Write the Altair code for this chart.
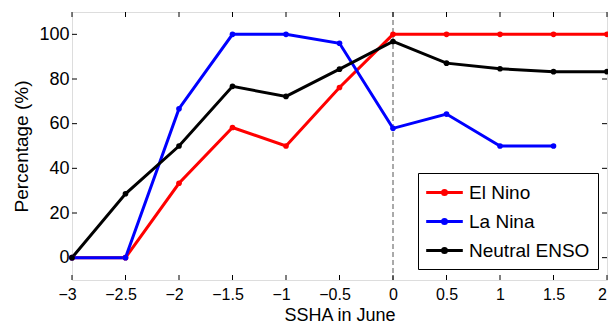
import altair as alt
import pandas as pd

x_vals = [-3, -2.5, -2, -1.5, -1, -0.5, 0, 0.5, 1, 1.5, 2]
el_nino = [0, 0, 33.3, 58.3, 50, 76.2, 100, 100, 100, 100, 100]
la_nina = [0, 0, 66.7, 100, 100, 96.0, 57.9, 64.3, 50, 50, None]
neutral = [0, 28.6, 50, 76.7, 72.2, 84.4, 96.8, 87.1, 84.6, 83.3, 83.3]
series_names = ["El Nino", "La Nina", "Neutral ENSO"]
series_colors = ["#ff0000", "#0000ff", "#000000"]
x_ticks = [-3, -2.5, -2, -1.5, -1, -0.5, 0, 0.5, 1, 1.5, 2]
y_ticks = [0, 20, 40, 60, 80, 100]

rows = []
for name, vals in zip(series_names, [el_nino, la_nina, neutral]):
    for xv, yv in zip(x_vals, vals):
        if yv is not None:
            rows.append({"x": xv, "y": yv, "series": name})
df = pd.DataFrame(rows)
xt_df = pd.DataFrame({"t": x_ticks})
yt_df = pd.DataFrame({"t": y_ticks})

W, H = 535, 268
TL = 5
FONT = "Liberation Sans"

x_scale = alt.Scale(domain=[-3, 2], nice=False, zero=False)
y_scale = alt.Scale(domain=[-10, 110], nice=False, zero=False)
color_scale = alt.Scale(domain=series_names, range=series_colors)

x_axis = alt.Axis(
    values=x_ticks, format=".1~f", title="SSHA in June", ticks=False, domain=False,
    grid=False, labelFontSize=16, titleFontSize=18, labelPadding=6, titlePadding=4,
    labelFlush=False, labelOverlap=False,
    labelOffset={"condition": {"test": "datum.value < 0 || datum.value >= 2", "value": -5},
                 "value": 0},
    labelFont=FONT, titleFont=FONT, labelColor="black", titleColor="black",
    titleFontWeight="normal")
y_axis = alt.Axis(
    values=y_ticks, format=".1~f", title="Percentage (%)", ticks=False, domain=False,
    grid=False, labelFontSize=18, titleFontSize=19, labelPadding=3, titlePadding=7,
    labelFlush=False, labelOverlap=False,
    labelFont=FONT, titleFont=FONT, labelColor="black", titleColor="black",
    titleFontWeight="normal")

legend = alt.Legend(
    title=None, orient="none", legendX=346, legendY=161,
    strokeColor="black", fillColor="white", padding=8,
    labelFontSize=19, labelFont=FONT, labelColor="black",
    symbolType="M-1.83,0L1.83,0M0.2,0A0.2,0.2 0 1,1 -0.2,0A0.2,0.2 0 1,1 0.2,0",
    symbolSize=400, symbolStrokeWidth=3, symbolOffset=7, rowPadding=7, labelOffset=13,
)

base = alt.Chart(df)

lines = base.mark_line(strokeWidth=3).encode(
    x=alt.X("x:Q", scale=x_scale, axis=x_axis),
    y=alt.Y("y:Q", scale=y_scale, axis=y_axis),
    color=alt.Color("series:N", scale=color_scale, legend=legend),
)

points = base.mark_point(filled=True, size=32, opacity=1).encode(
    x=alt.X("x:Q", scale=x_scale, axis=x_axis),
    y=alt.Y("y:Q", scale=y_scale, axis=y_axis),
    color=alt.Color("series:N", scale=color_scale, legend=legend),
)

# inward tick marks on all four sides
xt_bottom = alt.Chart(xt_df).mark_rule(color="black", strokeWidth=1).encode(
    x=alt.X("t:Q", scale=x_scale, axis=x_axis), y=alt.value(H), y2=alt.value(H - TL))
xt_top = alt.Chart(xt_df).mark_rule(color="black", strokeWidth=1).encode(
    x=alt.X("t:Q", scale=x_scale, axis=x_axis), y=alt.value(0), y2=alt.value(TL))
yt_left = alt.Chart(yt_df).mark_rule(color="black", strokeWidth=1).encode(
    y=alt.Y("t:Q", scale=y_scale, axis=y_axis), x=alt.value(0), x2=alt.value(TL))
yt_right = alt.Chart(yt_df).mark_rule(color="black", strokeWidth=1).encode(
    y=alt.Y("t:Q", scale=y_scale, axis=y_axis), x=alt.value(W - TL), x2=alt.value(W))

zero_line = alt.Chart(pd.DataFrame({"x": [0]})).mark_rule(
    strokeDash=[5, 3], color="#555555", strokeWidth=1
).encode(x=alt.X("x:Q", scale=x_scale, axis=x_axis))

chart = alt.layer(zero_line, xt_bottom, xt_top, yt_left, yt_right, lines, points).properties(
    width=W, height=H,
    autosize=alt.AutoSizeParams(type="none"),
    padding={"left": 64, "top": 4, "right": 1, "bottom": 44},
).configure_view(stroke="black", strokeWidth=1).configure(font=FONT)

chart.save("out.html", embed_options={"renderer": "svg", "actions": False})
